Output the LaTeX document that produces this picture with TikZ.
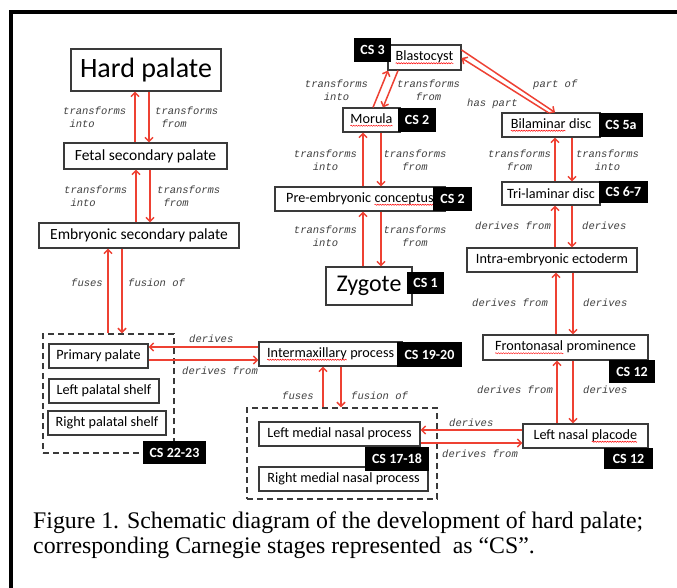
\documentclass[tikz,border=0pt]{standalone}
\usepackage{fontspec}
\usetikzlibrary{arrows.meta, decorations.pathmorphing}
\setmainfont{Carlito}
\newfontfamily\relfont{Liberation Mono}
\newfontfamily\capfont{Liberation Serif}
\definecolor{arrred}{HTML}{EE4133}
\definecolor{boxgray}{HTML}{3A3A3A}
% red spell-check wave under a word
\newcommand\spl[1]{\tikz[baseline=(w.base)]{\node[inner sep=0pt, outer sep=0pt, draw=none, fill=none,
    minimum width=0pt, minimum height=0pt] (w) {#1};
  \draw[red, line width=0.5pt, decorate, decoration={snake, amplitude=0.6pt, segment length=2.5pt}]
    ([yshift=-2.5pt]w.base west) -- ([yshift=-2.5pt]w.base east);}}

\begin{document}
\begin{tikzpicture}[x=1pt, y=-1pt,
  box/.style={draw=boxgray, line width=1.1pt, fill=white, inner sep=0pt,
    font=\fontsize{14.2}{16}\selectfont, minimum height=24pt},
  bigbox/.style={box, font=\fontsize{15.5}{17}\selectfont},
  csbox/.style={fill=black, text=white, inner sep=0pt,
    font=\bfseries\fontsize{14}{16}\selectfont},
  grp/.style={draw=boxgray, line width=1.4pt, dash pattern=on 6pt off 4pt, inner sep=0pt},
  arr/.style={draw=arrred, line width=1.5pt, -{Straight Barb[length=4pt,width=8pt]}},
  rel/.style={font=\relfont\itshape\fontsize{10.5}{13}\selectfont, text=black!75, inner sep=0pt},
  ]
  \useasboundingbox[fill=white] (0,0) rectangle (677,588);

  % frame
  \draw[line width=4pt, miter limit=10] (677,12) -- (10.5,12) -- (10.5,588);

  % palate column
  \node[box, minimum width=150, minimum height=42, font=\fontsize{28}{30}\selectfont] (hard) at (146,70) {Hard palate};
  \node[bigbox, minimum width=163, minimum height=26] (fetal) at (145.5,156) {Fetal secondary palate};
  \node[bigbox, minimum width=200, minimum height=25] (embr) at (139,235.5) {Embryonic secondary palate};

  % group CS 22-23
  \node[grp, minimum width=131, minimum height=119] (grpA) at (108.5,393.5) {};
  \node[box, minimum width=99] (prim) at (98.5,356) {Primary palate};
  \node[box, minimum width=110] (lshelf) at (104,391) {Left palatal shelf};
  \node[box, minimum width=118] (rshelf) at (107,423) {Right palatal shelf};
  \node[csbox, minimum width=63, minimum height=23] (csA) at (174.5,452.5) {CS 22-23};

  % intermaxillary + medial nasal group
  \node[box, minimum width=143] (inter) at (330.5,354) {\spl{Intermaxillary} process};
  \node[csbox, minimum width=65, minimum height=25] (csB) at (429.5,354.5) {CS 19-20};
  \node[grp, minimum width=190, minimum height=91] (grpB) at (342,453.5) {};
  \node[box, minimum width=161] (lmnp) at (339.5,434) {Left medial nasal process};
  \node[box, minimum width=169] (rmnp) at (343.5,479) {Right medial nasal process};
  \node[csbox, minimum width=64, minimum height=24] (csC) at (397,459) {CS 17-18};

  % conceptus column
  \node[box, minimum width=73, minimum height=25] (blast) at (424.5,57.5) {\spl{Blastocyst}};
  \node[csbox, minimum width=37, minimum height=24] (csH) at (372.5,50) {CS 3};
  \node[box, minimum width=57] (morula) at (371.5,120) {\spl{Morula}};
  \node[csbox, minimum width=38, minimum height=24] (csI) at (417,120) {CS 2};
  \node[box, minimum width=170] (pre) at (360,199) {Pre-embryonic \spl{conceptus}};
  \node[csbox, minimum width=39, minimum height=24] (csJ) at (452.5,199) {CS 2};
  \node[box, minimum width=86, minimum height=38, font=\fontsize{24}{26}\selectfont] (zyg) at (369,286) {Zygote};
  \node[csbox, minimum width=37, minimum height=22] (csK) at (425.5,283) {CS 1};

  % disc column
  \node[box, minimum width=98] (bilam) at (551,125) {\spl{Bilaminar} disc};
  \node[csbox, minimum width=44, minimum height=24] (csG) at (621,125) {CS 5a};
  \node[box, minimum width=98, minimum height=23] (tri) at (551,193.5) {Tri-laminar disc};
  \node[csbox, minimum width=49, minimum height=22] (csF) at (623.5,192) {CS 6-7};
  \node[box, minimum width=170] (intra) at (552,260) {Intra-embryonic ectoderm};
  \node[box, minimum width=165, minimum height=25] (fronto) at (565.5,347.5) {\spl{Frontonasal} prominence};
  \node[csbox, minimum width=46, minimum height=23] (csE) at (632,371.5) {CS 12};
  \node[box, minimum width=125] (placode) at (585.5,436) {Left nasal \spl{placode}};
  \node[csbox, minimum width=49, minimum height=21] (csD) at (628.5,458.5) {CS 12};

  % palate column links
  \draw[arr] (fetal.north -| 135,0) -- (hard.south -| 135,0);
  \draw[arr] (hard.south -| 149,0) -- (fetal.north -| 149,0);
  \draw[arr] (embr.north -| 136,0) -- (fetal.south -| 136,0);
  \draw[arr] (fetal.south -| 150,0) -- (embr.north -| 150,0);
  \draw[arr] (grpA.north -| 108,0) -- (embr.south -| 108,0);
  \draw[arr] (embr.south -| 122,0) -- (grpA.north -| 122,0);
  \node[rel, anchor=west, align=left] (r1) at (63,117.5) {transforms\\\phantom{t}into};
  \node[rel, anchor=west, align=left] (r2) at (155,117.5) {transforms\\\phantom{t}from};
  \node[rel, anchor=west, align=left] (r3) at (64,196.5) {transforms\\\phantom{t}into};
  \node[rel, anchor=west, align=left] (r4) at (157,196.5) {transforms\\\phantom{t}from};
  \node[rel, anchor=west] (r5) at (71,283) {fuses};
  \node[rel, anchor=west] (r6) at (128,283) {fusion of};

  % primary palate <-> intermaxillary
  \draw[arr] (inter.west |- 0,347) -- (prim.east |- 0,347);
  \draw[arr] (prim.east |- 0,360) -- (inter.west |- 0,360);
  \node[rel, anchor=west] (r7) at (189,339) {derives};
  \node[rel, anchor=west] (r8) at (182,371) {derives from};

  % intermaxillary <-> medial nasal processes
  \draw[arr] (grpB.north -| 323,0) -- (inter.south -| 323,0);
  \draw[arr] (inter.south -| 341,0) -- (grpB.north -| 341,0);
  \node[rel, anchor=west] (r9) at (282,396) {fuses};
  \node[rel, anchor=west] (r10) at (351,396) {fusion of};

  % left nasal placode <-> left medial nasal process
  \draw[arr] (placode.west |- 0,430) -- (lmnp.east |- 0,430);
  \draw[arr] (lmnp.east |- 0,443) -- (placode.west |- 0,443);
  \node[rel, anchor=west] (r11) at (449,423) {derives};
  \node[rel, anchor=west] (r12) at (442,454) {derives from};

  % disc column links
  \draw[arr] (placode.north -| 557,0) -- (fronto.south -| 557,0);
  \draw[arr] (fronto.south -| 573,0) -- (placode.north -| 573,0);
  \draw[arr] (fronto.north -| 556,0) -- (intra.south -| 556,0);
  \draw[arr] (intra.south -| 573,0) -- (fronto.north -| 573,0);
  \draw[arr] (intra.north -| 555,0) -- (tri.south -| 555,0);
  \draw[arr] (tri.south -| 572,0) -- (intra.north -| 572,0);
  \draw[arr] (tri.north -| 555,0) -- (bilam.south -| 555,0);
  \draw[arr] (bilam.south -| 572,0) -- (tri.north -| 572,0);
  \node[rel, anchor=west] (r13) at (477,390) {derives from};
  \node[rel, anchor=west] (r14) at (583,390) {derives};
  \node[rel, anchor=west] (r15) at (472,303) {derives from};
  \node[rel, anchor=west] (r16) at (583,303) {derives};
  \node[rel, anchor=west] (r17) at (475,226) {derives from};
  \node[rel, anchor=west] (r18) at (582,226) {derives};
  \node[rel, align=center] (r19) at (519.5,160) {transforms\\from};
  \node[rel, align=center] (r20) at (607.5,160) {transforms\\into};

  % blastocyst <-> bilaminar disc
  \draw[arr] (blast.east |- 0,50) -- (bilam.north -| 555,0);
  \draw[arr] (bilam.north -| 548,0) -- (blast.east |- 0,58);
  \node[rel, anchor=west] (r21) at (533,85) {part of};
  \node[rel, anchor=west] (r22) at (467,104) {has part};

  % conceptus column links
  \draw[arr] (morula.north -| 373,0) -- (blast.south -| 388,0);
  \draw[arr] (blast.south -| 398,0) -- (morula.north -| 383,0);
  \draw[arr] (pre.north -| 363,0) -- (morula.south -| 363,0);
  \draw[arr] (morula.south -| 381,0) -- (pre.north -| 381,0);
  \draw[arr] (zyg.north -| 363,0) -- (pre.south -| 363,0);
  \draw[arr] (pre.south -| 381,0) -- (zyg.north -| 381,0);
  \node[rel, align=center] (r23) at (336.5,90.5) {transforms\\into};
  \node[rel, align=center] (r24) at (428.5,90.5) {transforms\\from};
  \node[rel, align=center] (r25) at (325.5,160) {transforms\\into};
  \node[rel, align=center] (r26) at (415,160) {transforms\\from};
  \node[rel, align=center] (r27) at (325.5,236) {transforms\\into};
  \node[rel, align=center] (r28) at (415,236) {transforms\\from};

  % caption
  \node[anchor=base west, inner sep=0pt, font=\capfont\fontsize{23.8}{26}\selectfont] (cap1) at (33,528)
    {Figure 1. Schematic diagram of the development of hard palate;};
  \node[anchor=base west, inner sep=0pt, font=\capfont\fontsize{23.8}{26}\selectfont] (cap2) at (33,553)
    {corresponding Carnegie stages represented\ \ as “CS”.};
\end{tikzpicture}
\end{document}
